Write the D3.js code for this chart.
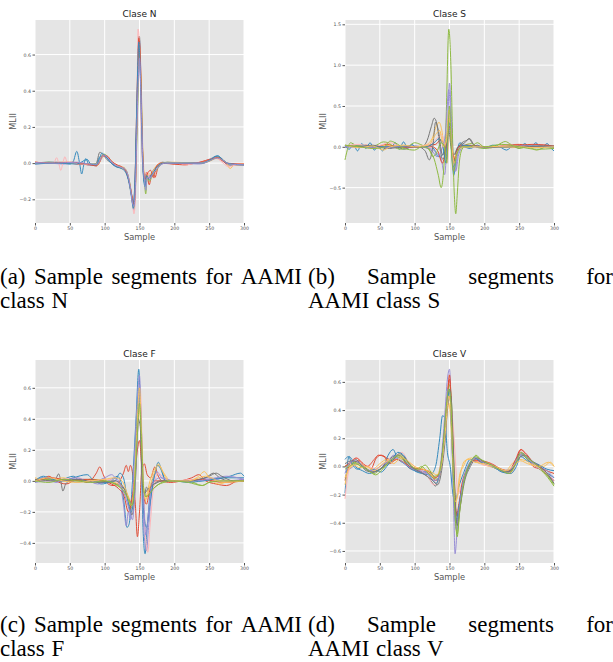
<!DOCTYPE html>
<html>
<head>
<meta charset="utf-8">
<script src="https://cdn.jsdelivr.net/npm/d3@7"></script>
<style>
  body { margin: 0; background: #fff; }
  svg { display: block; }
</style>
</head>
<body>
<div id="vis"></div>
<script>
// tick values shared by all panels (sample index) and per-panel MLII ticks
var xTicks = [0, 50, 100, 150, 200, 250, 300];
var yTicksN = [-0.2, 0.0, 0.2, 0.4, 0.6];
var yTicksS = [-0.5, 0.0, 0.5, 1.0, 1.5];
var yTicksF = [-0.4, -0.2, 0.0, 0.2, 0.4, 0.6];
var yTicksV = [-0.6, -0.4, -0.2, 0.0, 0.2, 0.4, 0.6];

// each segment is a flat list of (sample, MLII) pairs
var segN = [
  [0,0.005, 20,0.0, 40,0.003, 60,-0.005, 80,-0.01, 88,-0.015, 93,0.01, 98,0.045, 104,0.03, 110,0.005, 118,-0.02, 127,-0.03, 132,-0.06, 136,-0.12, 139,-0.19, 141,-0.23, 143,-0.15, 146,0.3, 149,0.7, 151,0.55, 154,0.08, 156,-0.07, 158,-0.1, 160,-0.05, 164,-0.12, 168,-0.05, 172,-0.08, 177,-0.02, 184,0.0, 200,-0.005, 215,-0.01, 230,0.0, 250,0.015, 258,0.03, 264,0.025, 270,0.01, 278,-0.01, 300,-0.008],
  [0,0.0, 20,0.005, 40,0.0, 50,-0.005, 55,0.01, 60,0.065, 64,0.0, 67,-0.06, 70,-0.01, 73,0.025, 77,-0.005, 82,-0.01, 88,-0.01, 92,0.03, 96,0.04, 102,0.035, 110,0.0, 118,-0.02, 127,-0.025, 132,-0.05, 136,-0.11, 139,-0.18, 141,-0.22, 143,-0.14, 146,0.25, 149,0.66, 151,0.5, 154,0.05, 156,-0.08, 158,-0.12, 160,-0.06, 164,-0.08, 170,-0.04, 178,-0.01, 185,0.0, 200,0.0, 230,0.0, 250,0.02, 262,0.04, 268,0.025, 274,0.0, 282,-0.01, 300,-0.01],
  [0,-0.005, 20,0.0, 40,-0.005, 60,0.0, 80,-0.01, 90,0.0, 95,0.03, 100,0.04, 106,0.02, 112,-0.01, 120,-0.02, 128,-0.03, 133,-0.07, 137,-0.14, 140,-0.22, 142,-0.26, 144,-0.16, 147,0.35, 150,0.68, 152,0.5, 155,0.02, 157,-0.1, 159,-0.11, 162,-0.07, 166,-0.07, 172,-0.03, 180,-0.01, 190,0.005, 210,0.0, 235,-0.005, 250,0.01, 260,0.03, 266,0.025, 272,0.005, 280,-0.01, 300,-0.01],
  [0,0.0, 30,0.005, 60,0.0, 80,-0.01, 88,0.0, 93,0.06, 97,0.05, 103,0.02, 110,0.0, 118,-0.02, 126,-0.03, 131,-0.05, 135,-0.1, 138,-0.16, 141,-0.24, 143,-0.2, 146,0.2, 148,0.6, 150,0.7, 152,0.4, 155,0.0, 157,-0.1, 159,-0.08, 163,-0.08, 170,-0.04, 177,-0.01, 183,0.005, 195,0.0, 230,0.0, 250,0.015, 260,0.035, 266,0.03, 272,0.01, 280,-0.005, 300,-0.01],
  [0,0.005, 20,0.0, 40,0.005, 60,0.0, 80,-0.005, 90,-0.01, 95,0.02, 100,0.045, 106,0.03, 112,0.0, 120,-0.015, 128,-0.025, 133,-0.06, 137,-0.13, 140,-0.21, 142,-0.24, 144,-0.15, 147,0.3, 150,0.64, 152,0.48, 155,0.05, 157,-0.08, 159,-0.12, 162,-0.06, 166,-0.06, 173,-0.02, 182,0.0, 200,0.005, 230,0.0, 250,0.01, 260,0.025, 268,0.02, 275,0.0, 280,-0.03, 286,-0.01, 300,-0.005],
  [0,0.0, 20,0.005, 40,0.0, 60,0.0, 80,-0.005, 90,0.0, 95,0.03, 99,0.05, 105,0.03, 112,0.0, 120,-0.02, 125,-0.03, 130,-0.04, 135,-0.1, 139,-0.19, 142,-0.25, 144,-0.16, 147,0.25, 150,0.6, 152,0.45, 155,0.0, 157,-0.1, 159,-0.17, 161,-0.07, 164,-0.1, 170,-0.06, 176,-0.03, 183,0.0, 190,0.005, 210,0.0, 240,0.0, 252,0.015, 262,0.03, 268,0.02, 275,0.0, 285,-0.01, 300,-0.01],
  [0,0.0, 20,0.0, 27,0.0, 31,0.03, 34,0.0, 37,-0.04, 40,0.0, 43,0.035, 46,0.005, 55,0.0, 70,-0.005, 85,-0.01, 92,0.01, 97,0.04, 103,0.035, 110,0.005, 118,-0.015, 126,-0.03, 132,-0.06, 136,-0.12, 140,-0.22, 142,-0.28, 144,-0.2, 146,0.2, 148,0.74, 150,0.65, 153,0.1, 156,-0.06, 158,-0.1, 161,-0.05, 165,-0.09, 170,-0.05, 178,-0.01, 186,0.0, 205,0.0, 215,-0.01, 230,0.0, 250,0.02, 258,0.03, 264,0.02, 270,0.0, 278,-0.02, 290,-0.01, 300,-0.01],
  [0,0.005, 25,0.0, 50,0.005, 75,-0.005, 88,-0.015, 92,0.0, 97,0.04, 103,0.04, 110,0.01, 118,-0.01, 126,-0.025, 131,-0.05, 136,-0.12, 139,-0.18, 142,-0.23, 144,-0.14, 147,0.4, 149,0.69, 151,0.6, 154,0.12, 156,-0.05, 158,-0.09, 161,-0.06, 166,-0.04, 170,-0.08, 174,-0.02, 180,0.0, 200,-0.005, 230,0.0, 250,0.02, 262,0.03, 268,0.02, 274,0.0, 300,-0.005],
  [0,-0.005, 30,0.0, 60,-0.005, 75,0.02, 80,-0.005, 88,-0.01, 92,0.02, 96,0.055, 101,0.04, 108,0.005, 116,-0.02, 124,-0.03, 130,-0.05, 135,-0.11, 139,-0.2, 141,-0.25, 143,-0.18, 146,0.3, 149,0.67, 151,0.52, 154,0.06, 156,-0.09, 158,-0.13, 160,-0.07, 164,-0.09, 170,-0.05, 178,-0.01, 185,0.0, 210,0.0, 240,0.0, 252,0.02, 262,0.04, 268,0.025, 276,0.0, 300,-0.01],
  [0,0.003, 30,0.0, 60,0.005, 80,-0.005, 90,-0.005, 95,0.025, 99,0.045, 106,0.025, 113,-0.005, 121,-0.02, 128,-0.03, 133,-0.06, 137,-0.14, 140,-0.22, 142,-0.24, 144,-0.14, 147,0.3, 150,0.58, 152,0.4, 155,0.0, 157,-0.09, 159,-0.15, 161,-0.08, 165,-0.08, 171,-0.05, 178,-0.02, 186,0.0, 200,0.0, 240,0.0, 252,0.015, 262,0.028, 270,0.015, 278,-0.005, 300,-0.01]
];

var segS = [
  [0,0.0, 15,0.01, 30,0.02, 45,0.0, 60,0.03, 75,0.0, 90,0.01, 105,0.0, 120,0.02, 130,0.03, 137,0.08, 142,0.05, 146,-0.15, 150,0.33, 153,0.1, 156,-0.2, 160,-0.05, 166,0.02, 175,0.0, 190,0.01, 210,-0.01, 230,0.02, 250,0.03, 270,0.0, 285,0.02, 300,0.0],
  [0,0.02, 6,-0.03, 12,0.03, 18,-0.05, 24,0.04, 30,-0.02, 36,0.05, 42,-0.04, 48,0.0, 54,-0.05, 60,0.02, 66,-0.02, 72,0.05, 78,-0.03, 84,0.06, 90,-0.02, 96,0.03, 102,-0.01, 110,0.0, 120,0.02, 128,-0.03, 134,-0.12, 140,-0.1, 145,0.05, 150,0.22, 153,0.0, 156,-0.35, 160,-0.1, 165,0.05, 172,0.0, 180,-0.02, 190,0.02, 200,-0.02, 212,0.02, 222,0.0, 232,-0.04, 242,0.02, 250,-0.02, 258,0.04, 266,-0.01, 274,0.05, 282,-0.02, 290,0.04, 296,-0.02, 300,-0.05],
  [0,0.0, 20,0.0, 40,0.01, 60,-0.01, 80,0.0, 100,0.01, 115,-0.01, 125,-0.03, 132,-0.08, 138,-0.15, 143,-0.34, 147,0.2, 150,0.78, 153,0.3, 156,-0.2, 159,-0.3, 163,-0.1, 170,0.0, 185,0.0, 210,0.0, 240,0.01, 270,0.0, 300,0.0],
  [0,0.0, 20,0.01, 40,-0.01, 60,0.01, 75,0.0, 85,-0.03, 95,0.0, 110,0.0, 118,0.08, 124,0.25, 128,0.35, 132,0.28, 136,0.0, 140,-0.15, 144,-0.1, 147,0.2, 150,0.4, 153,0.1, 156,-0.2, 160,-0.05, 168,0.05, 175,0.08, 179,0.1, 184,0.04, 192,-0.01, 205,0.0, 230,0.0, 260,0.01, 300,0.0],
  [0,0.0, 20,0.02, 40,-0.02, 60,0.02, 80,-0.01, 100,0.0, 115,0.02, 125,0.1, 131,0.25, 135,0.3, 139,0.2, 143,-0.05, 146,0.1, 149,0.45, 152,0.2, 155,-0.15, 159,-0.1, 165,0.0, 180,0.0, 210,0.0, 240,-0.01, 270,0.01, 300,0.0],
  [0,-0.16, 3,-0.05, 8,0.05, 15,0.02, 30,0.0, 45,0.02, 55,0.06, 62,0.05, 70,0.0, 80,-0.03, 90,0.0, 100,0.05, 108,0.03, 115,0.0, 122,-0.05, 128,-0.15, 134,-0.35, 138,-0.5, 141,-0.35, 145,0.3, 149,1.44, 152,1.0, 155,-0.1, 157,-0.6, 159,-0.82, 161,-0.6, 164,-0.2, 168,-0.03, 175,0.03, 182,0.04, 188,0.0, 200,-0.02, 215,0.0, 225,0.05, 230,0.065, 238,0.03, 250,-0.02, 262,0.0, 275,-0.04, 290,0.0, 300,-0.01],
  [0,0.01, 20,0.03, 35,0.0, 50,0.02, 65,0.05, 75,0.02, 90,0.0, 110,0.01, 125,0.05, 132,0.1, 138,0.15, 143,0.05, 147,-0.2, 150,0.4, 153,0.0, 156,-0.25, 160,-0.1, 166,0.0, 180,0.01, 210,0.0, 240,0.02, 270,0.0, 300,0.01],
  [0,0.01, 25,0.0, 50,-0.01, 70,0.01, 90,-0.01, 110,0.0, 125,0.0, 133,-0.05, 140,-0.2, 145,0.0, 150,0.25, 154,-0.05, 158,-0.15, 163,0.0, 175,0.02, 200,0.0, 240,0.01, 270,0.03, 300,0.01],
  [0,0.0, 30,0.01, 60,0.0, 90,0.01, 115,0.0, 128,0.05, 135,0.1, 140,0.03, 145,-0.2, 149,0.3, 152,0.15, 155,-0.25, 158,-0.2, 162,-0.05, 170,0.02, 190,0.0, 230,0.0, 270,0.01, 300,0.0],
  [0,0.0, 40,-0.01, 80,0.0, 110,0.0, 125,-0.05, 132,-0.12, 138,-0.05, 144,0.15, 149,0.7, 152,0.3, 155,-0.25, 158,-0.3, 162,-0.08, 170,0.0, 200,0.0, 250,0.01, 300,0.0],
  [0,0.02, 20,0.0, 40,0.02, 60,-0.02, 75,-0.01, 90,0.0, 105,0.0, 115,-0.05, 121,-0.16, 126,0.0, 130,0.3, 134,0.2, 140,-0.1, 145,0.0, 149,0.2, 152,0.0, 156,-0.1, 162,0.0, 172,0.05, 178,0.1, 184,0.03, 195,0.0, 230,0.0, 300,0.01],
  [0,0.02, 20,-0.01, 40,0.01, 55,-0.04, 65,0.0, 85,0.02, 100,0.0, 120,0.02, 130,0.15, 136,0.2, 141,0.0, 145,0.05, 150,0.35, 153,0.05, 157,-0.2, 162,-0.05, 172,0.0, 200,0.0, 240,0.01, 270,-0.01, 300,0.0],
  [0,0.02, 20,0.0, 40,-0.02, 55,-0.01, 65,0.07, 72,0.05, 85,-0.02, 100,-0.04, 110,0.0, 120,-0.02, 126,-0.12, 131,-0.08, 138,0.05, 143,0.0, 146,-0.2, 150,0.5, 153,-0.1, 156,-0.3, 160,-0.1, 168,0.0, 180,0.0, 190,0.05, 200,0.0, 225,0.03, 250,0.0, 275,-0.03, 300,-0.02]
];

var segF = [
  [0,0.0, 10,0.01, 20,0.03, 30,0.0, 45,-0.02, 60,0.01, 75,-0.01, 88,0.05, 93,0.09, 98,0.04, 105,-0.02, 112,-0.03, 120,-0.01, 127,0.05, 131,0.1, 134,0.06, 137,0.1, 140,0.05, 144,-0.15, 147,-0.36, 150,-0.2, 153,0.05, 157,0.11, 161,0.04, 166,0.02, 172,0.09, 176,0.04, 182,0.0, 195,-0.01, 210,0.0, 225,0.02, 235,0.04, 245,0.0, 260,-0.02, 275,-0.03, 290,0.0, 300,0.01],
  [0,-0.01, 10,0.02, 25,0.0, 40,0.01, 55,0.03, 65,0.0, 80,0.01, 95,-0.02, 110,0.0, 118,0.03, 123,0.0, 128,-0.15, 132,-0.3, 135,-0.28, 140,0.0, 145,0.4, 149,0.72, 152,0.3, 155,-0.3, 158,-0.47, 161,-0.3, 166,-0.05, 172,0.05, 177,0.12, 181,0.08, 188,0.0, 200,0.0, 220,-0.01, 240,0.0, 260,0.01, 280,0.03, 295,0.05, 300,0.03],
  [0,0.0, 15,0.02, 30,-0.01, 45,0.01, 60,-0.01, 75,0.0, 90,-0.02, 105,0.0, 115,0.02, 122,-0.02, 127,-0.15, 131,-0.29, 134,-0.2, 137,-0.25, 141,0.0, 146,0.45, 150,0.68, 153,0.2, 156,-0.3, 160,-0.45, 163,-0.3, 168,-0.05, 175,0.06, 180,0.03, 190,0.0, 220,0.0, 250,0.02, 270,0.0, 300,0.01],
  [0,0.0, 15,0.01, 28,0.0, 34,0.045, 37,0.0, 40,-0.065, 44,-0.02, 50,0.0, 70,0.01, 90,0.0, 110,-0.01, 125,-0.04, 133,-0.1, 139,-0.22, 143,-0.1, 147,0.3, 150,0.55, 153,0.2, 155,-0.05, 157,-0.1, 160,-0.04, 165,-0.07, 172,-0.02, 185,0.0, 220,0.0, 245,0.02, 256,0.05, 265,0.02, 280,0.0, 300,0.0],
  [0,0.02, 20,0.0, 40,0.02, 60,0.0, 80,0.01, 100,0.0, 120,-0.02, 130,-0.06, 136,-0.12, 140,-0.15, 144,0.1, 148,0.5, 151,0.4, 154,0.0, 157,-0.15, 160,-0.1, 165,0.0, 172,0.08, 178,0.1, 185,0.05, 195,0.0, 220,0.0, 235,0.03, 243,0.06, 250,0.02, 265,-0.02, 280,0.0, 300,0.0],
  [0,0.0, 20,0.01, 40,0.0, 60,0.0, 80,0.01, 100,0.0, 115,-0.02, 125,-0.05, 132,-0.1, 137,-0.16, 140,-0.18, 143,-0.05, 147,0.35, 150,0.55, 153,0.3, 155,0.0, 158,-0.1, 162,-0.1, 168,-0.06, 175,-0.03, 185,-0.01, 200,0.0, 220,0.0, 240,-0.03, 255,0.0, 280,0.0, 300,0.0],
  [0,0.01, 20,0.0, 40,0.01, 60,0.02, 80,0.0, 100,0.01, 115,0.0, 125,-0.05, 132,-0.12, 138,-0.2, 142,-0.1, 147,0.3, 151,0.6, 154,0.2, 158,-0.3, 162,-0.46, 165,-0.3, 170,-0.05, 177,0.05, 185,0.02, 200,0.0, 230,0.01, 260,0.0, 300,0.0],
  [0,0.0, 25,0.02, 50,0.0, 75,0.01, 95,0.0, 110,-0.02, 120,-0.05, 128,-0.1, 134,-0.2, 139,-0.12, 143,0.0, 147,0.2, 150,0.26, 153,0.1, 156,-0.1, 160,-0.15, 165,-0.05, 172,0.0, 190,0.0, 215,0.0, 240,0.01, 270,-0.01, 300,0.0],
  [0,0.0, 12,0.03, 25,0.01, 40,0.0, 55,0.02, 75,0.04, 85,0.0, 100,-0.01, 115,0.0, 122,0.05, 127,0.02, 132,-0.1, 138,-0.2, 142,-0.1, 146,0.35, 150,0.6, 153,0.2, 156,-0.2, 160,-0.3, 165,-0.15, 170,0.0, 176,0.1, 180,0.08, 188,0.0, 210,0.0, 240,0.0, 270,0.02, 300,0.02],
  [0,-0.01, 20,0.0, 40,0.0, 60,0.02, 80,-0.01, 100,0.02, 110,0.04, 118,0.0, 125,-0.05, 131,-0.12, 136,-0.2, 140,-0.25, 144,0.0, 147,0.3, 150,0.62, 153,0.3, 156,-0.1, 159,-0.35, 163,-0.2, 168,-0.02, 180,0.02, 200,0.0, 230,0.0, 260,0.02, 275,0.03, 300,0.01],
  [0,0.01, 30,0.0, 60,0.01, 90,-0.01, 115,0.0, 128,-0.05, 135,-0.12, 140,-0.15, 144,0.05, 148,0.4, 151,0.35, 154,0.0, 157,-0.08, 161,-0.06, 168,-0.03, 180,0.0, 220,0.0, 250,0.03, 260,0.05, 268,0.03, 285,0.0, 300,0.0],
  [0,0.0, 20,0.02, 40,0.0, 60,-0.01, 80,0.0, 100,0.01, 115,0.02, 125,0.0, 132,-0.08, 138,-0.16, 142,-0.05, 146,0.3, 150,0.6, 153,0.3, 156,-0.05, 159,-0.12, 164,-0.05, 172,0.06, 177,0.11, 183,0.06, 192,0.0, 220,0.0, 245,0.03, 270,-0.01, 300,0.0],
  [0,0.0, 20,-0.01, 40,0.01, 60,0.0, 80,-0.01, 100,0.0, 118,-0.03, 128,-0.07, 135,-0.13, 139,-0.16, 143,-0.02, 147,0.3, 150,0.5, 153,0.25, 156,-0.05, 159,-0.1, 163,-0.09, 170,-0.05, 178,-0.02, 190,0.0, 220,-0.01, 240,-0.03, 250,-0.01, 270,0.0, 300,0.0]
];

var segV = [
  [0,-0.1, 4,-0.02, 10,0.02, 20,0.04, 28,0.0, 36,-0.03, 45,0.06, 52,0.08, 60,0.06, 68,0.04, 76,0.08, 82,0.06, 92,-0.01, 105,-0.03, 115,-0.04, 123,-0.06, 130,-0.1, 135,-0.08, 140,0.1, 145,0.35, 150,0.62, 153,0.3, 156,-0.1, 160,-0.35, 164,-0.25, 170,-0.1, 178,0.0, 186,0.05, 195,0.03, 205,0.02, 220,-0.02, 235,-0.04, 243,0.0, 253,0.12, 260,0.08, 270,0.0, 280,-0.02, 290,-0.06, 300,-0.1],
  [0,-0.19, 3,0.0, 6,0.07, 10,0.05, 15,0.0, 25,-0.03, 35,-0.05, 45,-0.03, 55,0.0, 62,0.08, 69,0.12, 75,0.06, 85,0.02, 95,-0.02, 110,-0.04, 118,-0.03, 124,-0.05, 130,0.0, 136,0.2, 140,0.36, 143,0.35, 147,0.1, 151,0.0, 155,-0.2, 158,-0.25, 163,-0.15, 170,-0.05, 180,0.05, 188,0.03, 200,0.02, 215,0.0, 230,-0.04, 240,-0.02, 250,0.08, 256,0.09, 265,0.04, 275,0.0, 285,-0.03, 300,-0.08],
  [0,0.0, 5,-0.02, 12,0.0, 20,0.02, 30,-0.02, 40,-0.04, 50,-0.02, 60,0.02, 70,0.08, 80,0.07, 90,0.02, 100,-0.02, 110,-0.03, 120,-0.05, 128,-0.08, 133,-0.07, 138,0.05, 143,0.35, 147,0.62, 150,0.69, 153,0.3, 156,-0.3, 158,-0.62, 161,-0.45, 166,-0.2, 173,-0.05, 182,0.04, 190,0.05, 200,0.02, 215,-0.01, 230,-0.04, 240,0.0, 250,0.08, 258,0.07, 268,0.02, 280,-0.02, 290,-0.05, 300,-0.1],
  [0,0.0, 8,0.02, 15,0.05, 22,0.02, 30,-0.03, 40,-0.04, 50,-0.02, 58,0.02, 66,0.06, 75,0.08, 84,0.05, 92,0.0, 102,-0.03, 112,-0.05, 120,-0.08, 126,-0.12, 130,-0.14, 134,-0.08, 140,0.1, 144,0.3, 148,0.5, 151,0.55, 154,0.2, 157,-0.2, 160,-0.4, 164,-0.3, 170,-0.12, 178,0.0, 186,0.06, 195,0.04, 210,0.0, 225,-0.03, 235,-0.04, 245,0.04, 252,0.1, 260,0.06, 272,0.01, 285,-0.03, 300,-0.12],
  [0,-0.13, 4,-0.04, 10,0.0, 20,0.02, 30,0.0, 40,-0.02, 50,0.02, 60,0.05, 70,0.04, 80,0.07, 90,0.03, 100,-0.01, 112,-0.02, 122,-0.05, 128,-0.08, 134,-0.05, 140,0.1, 145,0.3, 149,0.45, 152,0.3, 155,0.0, 158,-0.3, 161,-0.2, 165,-0.05, 170,0.0, 175,0.05, 182,0.06, 190,0.03, 200,0.01, 215,-0.01, 230,-0.03, 242,0.03, 250,0.05, 260,0.04, 270,0.01, 285,0.0, 295,0.03, 300,0.0],
  [0,0.0, 6,0.01, 14,0.03, 22,0.0, 32,-0.02, 42,-0.05, 50,-0.02, 58,0.0, 66,0.05, 74,0.07, 82,0.05, 92,0.0, 102,-0.02, 110,0.0, 118,-0.04, 126,-0.08, 132,-0.09, 138,0.0, 143,0.25, 147,0.5, 150,0.58, 154,0.35, 157,-0.1, 161,-0.5, 164,-0.35, 169,-0.15, 176,-0.02, 183,0.05, 188,0.08, 196,0.04, 210,0.0, 225,-0.03, 235,-0.05, 245,0.02, 252,0.09, 262,0.05, 275,0.0, 288,-0.06, 300,-0.14],
  [0,-0.23, 3,-0.1, 7,0.0, 12,0.05, 18,0.06, 25,0.02, 35,0.0, 45,-0.02, 55,0.02, 65,0.05, 75,0.08, 82,0.1, 90,0.04, 100,0.0, 110,-0.03, 120,-0.08, 127,-0.13, 132,-0.12, 138,0.0, 143,0.25, 147,0.45, 150,0.5, 153,0.4, 156,0.24, 159,0.0, 162,-0.2, 166,-0.15, 172,-0.05, 180,0.02, 188,0.04, 198,0.01, 212,0.0, 225,-0.03, 238,-0.05, 248,0.05, 255,0.11, 262,0.06, 275,0.0, 290,-0.05, 300,-0.1],
  [0,0.0, 8,0.03, 16,0.06, 24,0.03, 32,0.0, 42,0.05, 48,0.08, 56,0.07, 64,0.02, 74,0.05, 84,0.03, 96,-0.01, 110,-0.02, 122,-0.04, 130,-0.08, 136,-0.04, 142,0.2, 147,0.5, 150,0.65, 153,0.4, 156,0.0, 159,-0.3, 162,-0.35, 167,-0.15, 175,-0.02, 185,0.04, 195,0.04, 210,0.02, 225,-0.02, 235,-0.03, 245,0.05, 252,0.12, 258,0.1, 270,0.03, 285,-0.02, 300,-0.05],
  [0,0.05, 5,0.07, 10,0.02, 18,-0.02, 26,0.0, 34,-0.03, 42,-0.02, 52,-0.04, 60,0.0, 68,0.05, 76,0.1, 84,0.08, 92,0.02, 100,-0.03, 110,-0.05, 120,-0.06, 126,-0.1, 131,-0.12, 136,-0.05, 142,0.2, 147,0.45, 150,0.55, 153,0.25, 156,-0.15, 159,-0.4, 163,-0.3, 170,-0.1, 178,0.0, 186,0.06, 195,0.03, 210,0.01, 225,-0.04, 238,-0.05, 246,0.0, 252,0.07, 262,0.04, 275,0.02, 290,-0.02, 300,-0.03],
  [0,-0.05, 6,0.02, 14,0.04, 22,0.02, 30,-0.02, 40,-0.03, 50,0.0, 60,0.03, 70,0.06, 78,0.05, 88,0.01, 98,-0.02, 110,-0.04, 120,-0.06, 128,-0.1, 133,-0.09, 139,0.05, 144,0.3, 148,0.55, 151,0.5, 154,0.1, 157,-0.3, 160,-0.45, 164,-0.3, 170,-0.1, 178,0.02, 188,0.06, 198,0.03, 212,0.0, 228,-0.03, 238,-0.02, 248,0.06, 255,0.09, 265,0.04, 280,0.0, 292,-0.04, 300,-0.08],
  [0,0.02, 10,0.04, 18,0.03, 28,-0.01, 38,-0.04, 48,-0.03, 58,0.01, 68,0.04, 78,0.09, 86,0.06, 95,0.0, 108,-0.04, 118,-0.07, 126,-0.1, 133,-0.13, 138,-0.05, 144,0.2, 148,0.45, 152,0.5, 155,0.2, 158,-0.2, 161,-0.42, 165,-0.3, 171,-0.12, 180,0.0, 190,0.06, 200,0.03, 215,0.0, 230,-0.04, 240,-0.02, 250,0.06, 258,0.08, 268,0.04, 280,0.0, 292,-0.06, 300,-0.12],
  [0,-0.08, 5,-0.02, 12,0.01, 22,-0.01, 32,0.0, 42,-0.03, 52,0.01, 62,0.04, 70,0.02, 80,0.06, 90,0.04, 100,0.0, 112,-0.02, 124,-0.04, 132,-0.06, 138,0.0, 144,0.25, 149,0.5, 152,0.4, 155,0.0, 158,-0.25, 162,-0.2, 166,-0.05, 172,0.04, 178,0.05, 186,0.03, 200,0.02, 215,0.0, 232,-0.03, 245,0.02, 252,0.04, 262,0.02, 278,0.0, 292,0.03, 300,0.0],
  [0,-0.02, 6,0.0, 14,0.02, 24,0.0, 34,-0.03, 44,-0.06, 52,-0.03, 62,0.03, 70,0.06, 78,0.08, 86,0.05, 96,0.0, 106,-0.02, 115,0.01, 122,-0.03, 128,-0.07, 134,-0.06, 140,0.1, 145,0.4, 149,0.55, 152,0.45, 155,0.0, 158,-0.35, 161,-0.48, 165,-0.3, 171,-0.1, 179,0.02, 187,0.07, 195,0.05, 210,0.01, 225,-0.03, 236,-0.05, 246,0.03, 253,0.1, 262,0.06, 275,0.01, 288,-0.05, 300,-0.13]
];

// caption lines: first line is justified, second is set ragged
var capA = ['(a) Sample segments for AAMI', 'class N'];
var capB = ['(b) Sample segments for', 'AAMI class S'];
var capC = ['(c) Sample segments for AAMI', 'class F'];
var capD = ['(d) Sample segments for', 'AAMI class V'];

// matplotlib "ggplot" style colour cycle
var palette = ['#E24A33', '#348ABD', '#988ED5', '#777777', '#FBC15E', '#8EBA42', '#FFB5B8'];

var width = 613, height = 662;
var pw = 209, ph = 203;

var svg = d3.select('#vis').append('svg')
  .attr('width', width)
  .attr('height', height);

var panels = [
  { title: 'Clase N', segs: segN, yTicks: yTicksN, left: 35, top: 20 },
  { title: 'Clase S', segs: segS, yTicks: yTicksS, left: 345, top: 20 },
  { title: 'Clase F', segs: segF, yTicks: yTicksF, left: 35, top: 360 },
  { title: 'Clase V', segs: segV, yTicks: yTicksV, left: 345, top: 360 }
];

var toPoints = function (arr) {
  return d3.range(0, arr.length, 2).map(function (i) { return [arr[i], arr[i + 1]]; });
};

var drawPanel = function (p) {
  var g = svg.append('g')
    .attr('transform', 'translate(' + p.left + ',' + p.top + ')');

  var series = p.segs.map(toPoints);
  var ext = d3.extent(d3.merge(series), function (d) { return d[1]; });
  var pad = (ext[1] - ext[0]) * 0.05;

  var x = d3.scaleLinear().domain([0, 300]).range([0, pw]);
  var y = d3.scaleLinear().domain([ext[0] - pad, ext[1] + pad]).range([ph, 0]);

  g.append('rect')
    .attr('width', pw)
    .attr('height', ph)
    .attr('fill', '#E5E5E5');

  // white grid
  g.selectAll('.vgrid').data(xTicks).enter().append('line')
    .attr('x1', function (d) { return x(d); })
    .attr('x2', function (d) { return x(d); })
    .attr('y1', 0).attr('y2', ph)
    .attr('stroke', '#fff').attr('stroke-width', 1);
  g.selectAll('.hgrid').data(p.yTicks).enter().append('line')
    .attr('y1', function (d) { return y(d); })
    .attr('y2', function (d) { return y(d); })
    .attr('x1', 0).attr('x2', pw)
    .attr('stroke', '#fff').attr('stroke-width', 1);

  var line = d3.line()
    .x(function (d) { return x(d[0]); })
    .y(function (d) { return y(d[1]); })
    .curve(d3.curveMonotoneX);

  g.selectAll('.seg').data(series).enter().append('path')
    .attr('d', line)
    .attr('fill', 'none')
    .attr('stroke', function (d, i) { return palette[i % palette.length]; })
    .attr('stroke-width', 1);

  var xAxis = g.append('g')
    .attr('transform', 'translate(0,' + ph + ')')
    .call(d3.axisBottom(x).tickValues(xTicks).tickSize(2.5).tickPadding(1.5));
  var yAxis = g.append('g')
    .call(d3.axisLeft(y).tickValues(p.yTicks).tickSize(2.5).tickPadding(1.5)
      .tickFormat(d3.format('.1f')));

  [xAxis, yAxis].forEach(function (a) {
    a.select('.domain').remove();
    a.selectAll('line').attr('stroke', '#555');
    a.selectAll('text')
      .attr('fill', '#555')
      .style('font-family', 'DejaVu Sans')
      .style('font-size', '4.7px');
  });

  g.append('text')
    .attr('x', pw / 2)
    .attr('y', -3.5)
    .attr('text-anchor', 'middle')
    .style('font-family', 'DejaVu Sans')
    .style('font-size', '9px')
    .attr('fill', '#222')
    .text(p.title);

  g.append('text')
    .attr('x', pw / 2)
    .attr('y', ph + 17)
    .attr('text-anchor', 'middle')
    .style('font-family', 'DejaVu Sans')
    .style('font-size', '8.3px')
    .attr('fill', '#555')
    .text('Sample');

  g.append('text')
    .attr('transform', 'translate(-18.7,' + (ph / 2) + ') rotate(-90)')
    .attr('text-anchor', 'middle')
    .style('font-family', 'DejaVu Sans')
    .style('font-size', '8.3px')
    .attr('fill', '#555')
    .text('MLII');
};

panels.forEach(drawPanel);

// captions, set like LaTeX: first line stretched to the column width
var capFont = 23;
var justifyLine = function (str, x0, w, yBase) {
  var words = str.split(' ');
  var nodes = words.map(function (word) {
    return svg.append('text')
      .attr('y', yBase)
      .style('font-family', 'Liberation Serif')
      .style('font-size', capFont + 'px')
      .attr('fill', '#000')
      .text(word);
  });
  var widths = nodes.map(function (n) { return n.node().getComputedTextLength(); });
  var gap = (w - d3.sum(widths)) / (words.length - 1);
  var cx = x0;
  nodes.forEach(function (n, i) { n.attr('x', cx); cx += widths[i] + gap; });
};
var plainLine = function (str, x0, yBase) {
  svg.append('text')
    .attr('x', x0)
    .attr('y', yBase)
    .style('font-family', 'Liberation Serif')
    .style('font-size', capFont + 'px')
    .style('word-spacing', '1px')
    .attr('fill', '#000')
    .text(str);
};

justifyLine(capA[0], 0, 302, 284);
plainLine(capA[1], 0, 308);
justifyLine(capB[0], 308, 305, 284);
plainLine(capB[1], 308, 308);
justifyLine(capC[0], 0, 302, 632);
plainLine(capC[1], 0, 656);
justifyLine(capD[0], 308, 305, 632);
plainLine(capD[1], 308, 656);
</script>
</body>
</html>
